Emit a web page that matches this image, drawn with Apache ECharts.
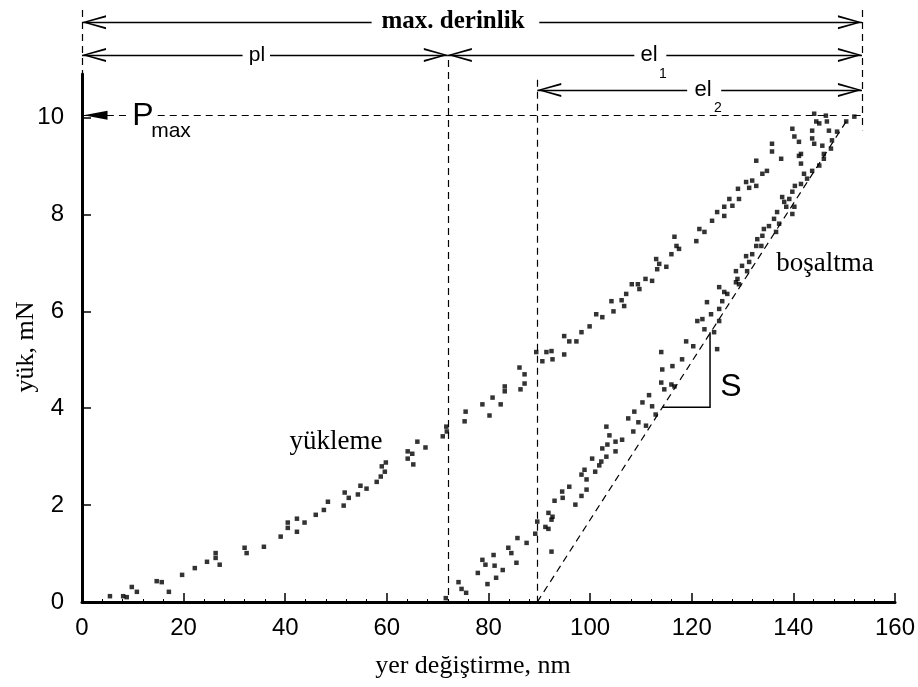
<!DOCTYPE html>
<html>
<head>
<meta charset="utf-8">
<title>yük - yer değiştirme</title>
<script src="https://cdn.jsdelivr.net/npm/echarts@6.0.0/dist/echarts.min.js"></script>
<style>
  html, body { margin: 0; padding: 0; background: #fff; }
  #chart { width: 918px; height: 687px; }
</style>
</head>
<body>
<div id="chart"></div>
<script>
// --- data ---
var yTickValues = [0, 2, 4, 6, 8, 10];

// yükleme (loading) points: [nm, mN]
var loadingPts = [
  [5.5,0.12],[8.1,0.12],[8.8,0.10],[9.8,0.31],[10.8,0.21],[14.7,0.43],[15.7,0.41],[17.1,0.21],
  [19.7,0.56],[22.2,0.70],[24.6,0.83],[26.3,1.01],[26.3,0.91],[27.1,0.77],[32.0,1.12],[32.4,1.01],
  [35.8,1.14],[39.1,1.35],[40.5,1.64],[40.5,1.53],[42.3,1.72],[42.3,1.45],[43.8,1.64],[46.0,1.80],
  [47.6,1.90],[48.4,2.07],[51.5,1.99],[51.7,2.26],[52.5,2.15],[54.3,2.22],[54.8,2.40],[56.0,2.34],
  [58.0,2.48],[58.8,2.59],[59.0,2.80],[59.8,2.88],[59.6,2.69],[64.1,3.11],[64.1,2.96],[65.0,3.06],
  [65.2,2.84],[66.0,3.31],[67.6,3.19],[71.0,3.42],[71.7,3.62],[71.8,3.52],[75.3,3.73],[75.5,3.93],
  [78.8,4.08],[80.2,3.85],[80.8,4.22],[82.4,4.08],[83.2,4.35],[83.2,4.45],[86.3,4.39],[87.1,4.51],
  [86.1,4.84],[87.1,4.70],[89.4,5.16],[90.6,4.97],[91.4,5.16],[92.4,5.18],[92.6,5.01],[94.9,5.49],
  [94.9,5.11],[95.9,5.38],[97.3,5.38],[98.3,5.57],[99.9,5.69],[101.2,5.94],[102.4,5.88],[104.2,6.21],
  [104.6,6.00],[106.2,6.23],[106.7,6.11],[107.1,6.36],[108.2,6.56],[109.4,6.56],[109.7,6.46],[110.9,6.67],
  [112.2,6.63],[113.0,7.08],[113.2,6.87],[113.6,6.98],[115.0,6.92],[116.0,7.18],[116.6,7.54],[117.0,7.35],
  [117.5,7.29],[120.9,7.45],[121.5,7.70],[122.5,7.64],[124.0,7.87],[125.0,8.05],[126.4,7.97],[126.4,8.16],
  [127.4,8.32],[128.0,8.18],[129.1,8.53],[129.3,8.32],[130.7,8.67],[131.3,8.55],[131.9,8.70],[132.7,8.59],
  [132.7,9.11],[133.9,8.84],[134.8,8.90],[135.8,9.46],[135.8,9.30],[137.6,9.15],[139.8,9.77],[140.2,9.61],
  [141.1,9.50],[141.5,9.25],[143.7,9.73],[143.7,9.57],[144.1,9.46],[144.1,10.08],[144.5,9.92],[145.1,9.88],
  [146.4,10.04],[146.6,9.92]
];

// boşaltma (unloading) points: [nm, mN]
var unloadingPts = [
  [152.0,10.02],[150.4,9.92],[148.6,9.71],[147.6,9.53],[147.0,9.73],[147.4,9.36],[145.7,9.42],[146.0,9.25],
  [146.0,9.15],[145.1,9.01],[143.7,8.90],[142.7,8.74],[142.1,8.84],[141.5,8.63],[141.5,9.05],[141.1,9.21],
  [140.3,8.59],[139.8,8.47],[139.2,8.32],[138.2,8.26],[137.8,8.36],[138.6,8.16],[140.2,8.16],[139.8,8.01],
  [136.8,8.05],[136.2,7.91],[137.2,7.81],[136.6,7.64],[135.2,7.76],[134.2,7.70],[133.9,7.56],[132.9,7.49],
  [132.7,7.35],[133.7,7.35],[131.9,7.18],[131.3,7.02],[130.7,7.14],[129.9,6.94],[130.9,6.83],[128.7,6.83],
  [129.0,6.67],[128.7,6.60],[129.3,6.56],[127.0,6.36],[126.4,6.40],[125.4,6.50],[126.0,6.21],[125.4,6.05],
  [125.4,5.80],[125.0,5.22],[124.4,5.57],[123.8,5.94],[123.0,6.19],[122.5,5.63],[122.1,5.84],[121.1,5.80],
  [120.3,5.28],[118.9,5.38],[118.1,5.01],[116.2,4.87],[114.2,4.80],[114.0,5.16],
  [116.6,4.45],[116.0,4.49],[114.6,4.39],[114.0,4.53],[112.9,3.87],[112.2,4.04],[111.6,4.27],[111.0,3.64],
  [110.3,4.12],[109.5,3.71],[108.7,3.93],[108.5,3.52],[107.5,3.79],[106.3,3.35],[105.0,3.31],[105.0,3.11],
  [103.8,3.44],[103.4,3.25],[103.2,3.62],[102.4,3.17],[103.2,3.00],[102.2,2.90],[101.8,2.82],[101.0,2.69],
  [100.4,2.96],[98.9,2.73],[99.3,2.53],[99.3,2.32],[98.3,2.63],[98.3,2.19],[97.1,2.01],[95.9,2.38],
  [94.5,2.28],[94.6,2.15],[93.0,2.09],[92.6,1.76],[92.4,1.70],[91.8,1.84],[92.4,1.04],[91.8,1.51],
  [91.2,1.55],[89.6,1.66],[89.2,1.41],[87.5,1.22],[85.7,1.32],[85.5,0.81],[84.5,1.01],[83.9,1.12],
  [82.8,0.66],[81.5,0.50],[81.2,0.75],[81.0,0.97],[79.8,0.37],[79.4,0.77],[78.8,0.87],[77.9,0.60],
  [75.6,0.19],[74.7,0.27],[74.1,0.41],[71.6,0.08]
];

// characteristic values (nm / mN)
var pMax = 10.05;
var plDepth = 72;        // plastic depth
var el2Start = 89.6;     // start of el2 / tangent intercept
var maxDepth = 153.5;    // max. derinlik
var tangentEnd = [150.4, 9.92];
var sLeg = [[114.2, 4.02], [123.6, 4.02], [123.6, 5.57]];

// row heights of the dimension arrows above the plot (in mN units)
var rowMax = 11.97, rowPl = 11.29, rowEl2 = 10.57;

// arrowhead paths in a square box, tip at the centre
var openHead = 'path://M0,0 L7,24 L5,24 L0,5 L-5,24 L-7,24 Z M-24,-24 L-23.99,-24 Z M24,24 L23.99,24 Z';
var solidHead = 'path://M0,0 L4.5,24 L-4.5,24 Z M-24,-24 L-23.99,-24 Z M24,24 L23.99,24 Z';

var chart = echarts.init(document.getElementById('chart'));

var guides = [
  [[plDepth, 11.19], [plDepth, 0]],
  [[el2Start, 10.78], [el2Start, 0]],
  [[maxDepth, 12.22], [maxDepth, 9.74]],
  [[0, 12.22], [0, 10.9]],
  [[4.9, pMax], [9.4, pMax]],
  [[14.9, pMax], [maxDepth, pMax]],
  [[el2Start, 0], tangentEnd]
];

var arrows = [
  [[57.0, rowMax], [0, rowMax]],
  [[90.0, rowMax], [maxDepth, rowMax]],
  [[31.6, rowPl], [0, rowPl]],
  [[37.0, rowPl], [plDepth, rowPl]],
  [[108.7, rowPl], [plDepth, rowPl]],
  [[115.0, rowPl], [maxDepth, rowPl]],
  [[119.1, rowEl2], [el2Start, rowEl2]],
  [[125.8, rowEl2], [maxDepth, rowEl2]]
];

var sans = '"Liberation Sans", Arial, sans-serif';
var serif = '"Liberation Serif", "Times New Roman", serif';

function txt(text, x, y, font, extra) {
  var el = {
    type: 'text', x: x, y: y, z: 100,
    style: { text: text, font: font, fill: '#000', textAlign: 'center', textVerticalAlign: 'middle' }
  };
  if (extra) for (var k in extra) el[k] = extra[k];
  return el;
}

var option = {
  animation: false,
  grid: { left: 82, right: 22, top: 74, bottom: 85 },
  xAxis: {
    type: 'value', min: 0, max: 160, interval: 20,
    splitLine: { show: false },
    axisLine: { onZero: false, lineStyle: { color: '#000', width: 3 } },
    axisTick: { inside: true, length: 9, lineStyle: { color: '#000', width: 1.5 } },
    minorTick: { show: true, splitNumber: 5, length: 3, lineStyle: { color: '#000', width: 1 } },
    axisLabel: { color: '#000', fontSize: 24, fontFamily: sans, margin: 14 }
  },
  yAxis: {
    type: 'value', min: 0, max: 10.9, interval: 2,
    splitLine: { show: false },
    axisLine: { show: true, onZero: false, lineStyle: { color: '#000', width: 3 } },
    axisTick: { show: true, inside: true, length: 9, customValues: yTickValues, lineStyle: { color: '#000', width: 1.5 } },
    axisLabel: { color: '#000', fontSize: 24, fontFamily: sans, margin: 18, customValues: yTickValues }
  },
  graphic: [
    txt('max. derinlik', 453, 22, 'bold 25px ' + serif),
    txt('pl', 257, 55, '21px ' + sans),
    txt('el', 649, 55, '22px ' + sans),
    txt('1', 663, 74, '14px ' + sans),
    txt('el', 703, 90, '22px ' + sans),
    txt('2', 718, 108, '14px ' + sans),
    txt('P', 143, 116, '32px ' + sans),
    txt('max', 171, 131, '21px ' + sans),
    txt('yükleme', 336, 442, '27px ' + serif),
    txt('boşaltma', 825, 264, '27px ' + serif),
    txt('S', 731, 387, '32px ' + sans),
    txt('yer değiştirme, nm', 473, 666, '26px ' + serif),
    txt('yük, mN', 26, 347, '26px ' + serif, { rotation: Math.PI / 2 })
  ],
  series: [
    {
      name: 'guides', type: 'lines', coordinateSystem: 'cartesian2d', clip: false, silent: true,
      symbol: 'none',
      lineStyle: { color: '#000', width: 1.2, type: [7, 5], opacity: 1 },
      data: guides.map(function (c) { return { coords: c }; })
    },
    {
      name: 'arrows', type: 'lines', coordinateSystem: 'cartesian2d', clip: false, silent: true,
      symbol: ['none', openHead], symbolSize: 48,
      itemStyle: { color: '#000' },
      lineStyle: { color: '#000', width: 1.3, opacity: 1 },
      data: arrows.map(function (c) { return { coords: c }; })
    },
    {
      name: 'pmaxArrow', type: 'lines', coordinateSystem: 'cartesian2d', clip: false, silent: true,
      symbol: ['none', solidHead], symbolSize: 48,
      lineStyle: { color: '#000', width: 1, opacity: 1 },
      data: [{ coords: [[4.9, pMax], [0.3, pMax]] }]
    },
    {
      name: 'S', type: 'lines', coordinateSystem: 'cartesian2d', polyline: true, silent: true,
      symbol: 'none',
      lineStyle: { color: '#000', width: 1.5, opacity: 1 },
      data: [{ coords: sLeg }]
    },
    {
      name: 'yükleme', type: 'scatter', symbol: 'rect', symbolSize: 4.5, z: 5,
      itemStyle: { color: '#000' }, data: loadingPts
    },
    {
      name: 'boşaltma', type: 'scatter', symbol: 'rect', symbolSize: 4.5, z: 5,
      itemStyle: { color: '#000' }, data: unloadingPts
    }
  ]
};

chart.setOption(option);
</script>
</body>
</html>
